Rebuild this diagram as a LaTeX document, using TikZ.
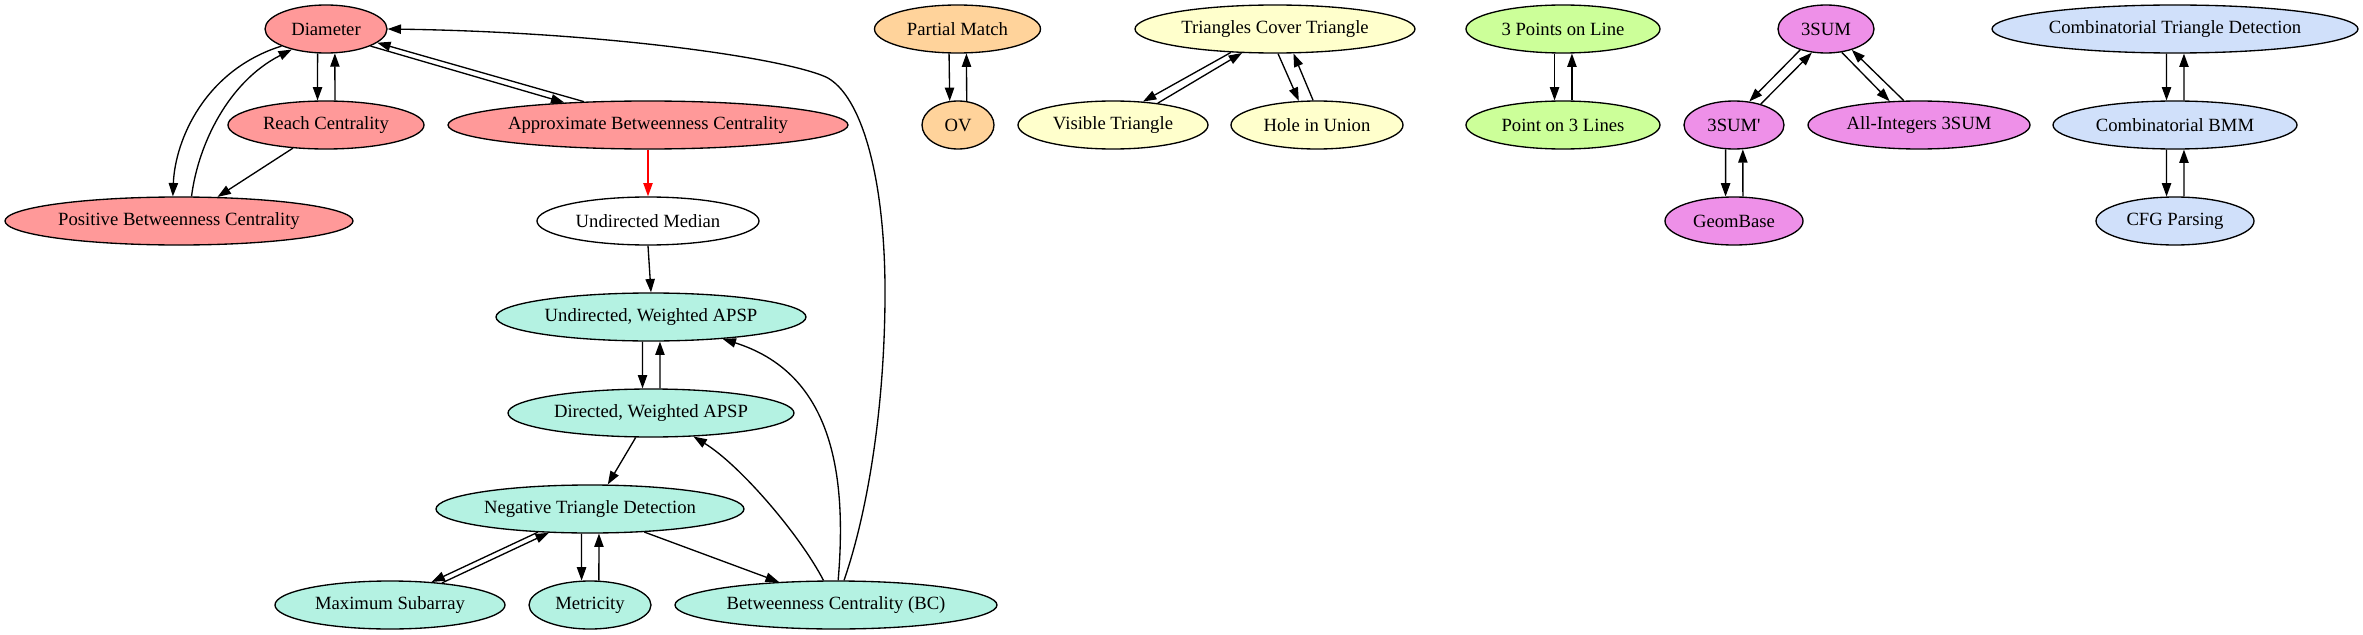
\documentclass[tikz,border=0pt]{standalone}
\usepackage{fontspec}
\setmainfont{Liberation Serif}
\usetikzlibrary{shapes.geometric,arrows.meta}
\definecolor{cpink}{RGB}{255,153,153}
\definecolor{corange}{RGB}{255,211,155}
\definecolor{cyellow}{RGB}{255,255,204}
\definecolor{cgreen}{RGB}{204,255,153}
\definecolor{cviolet}{RGB}{238,144,232}
\definecolor{cblue}{RGB}{208,224,250}
\definecolor{ccyan}{RGB}{180,242,226}
\newcommand\gvlabel[1]{\makebox[0pt][c]{#1}}
\newcommand\gvpair[2]{\draw[ed] (#1.-109.5) -- (#2.109.5); \draw[ed] (#2.70.5) -- (#1.-70.5);}
\tikzset{
  gv/.style={ellipse, draw=black, line width=1pt, inner sep=0pt, minimum height=36pt,
    font=\fontsize{14pt}{16pt}\selectfont},
  ed/.style={draw=black, line width=1pt, -{Triangle[length=10pt,width=7pt]}},
}
\begin{document}
\begin{tikzpicture}[x=0.75pt,y=-0.75pt]
\useasboundingbox (0,0) rectangle (2363,635);
% red cluster
\node[gv, fill=cpink, minimum width=91.5pt] (diam) at (326,29) {\gvlabel{Diameter}};
\node[gv, fill=cpink, minimum width=147pt] (reach) at (326,125) {\gvlabel{Reach Centrality}};
\node[gv, fill=cpink, minimum width=261pt] (pbc) at (179,221) {\gvlabel{Positive Betweenness Centrality}};
\node[gv, fill=cpink, minimum width=300pt] (abc) at (648,125) {\gvlabel{Approximate Betweenness Centrality}};
\node[gv, fill=white, minimum width=166.5pt] (um) at (648,221) {\gvlabel{Undirected Median}};
% cyan cluster
\node[gv, fill=ccyan, minimum width=232.5pt] (uwa) at (651,317) {\gvlabel{Undirected, Weighted APSP}};
\node[gv, fill=ccyan, minimum width=214.5pt] (dwa) at (651,413) {\gvlabel{Directed, Weighted APSP}};
\node[gv, fill=ccyan, minimum width=231pt] (ntd) at (590,509) {\gvlabel{Negative Triangle Detection}};
\node[gv, fill=ccyan, minimum width=172.5pt] (ms) at (390,605) {\gvlabel{Maximum Subarray}};
\node[gv, fill=ccyan, minimum width=91.5pt] (met) at (590,605) {\gvlabel{Metricity}};
\node[gv, fill=ccyan, minimum width=241.5pt] (bc) at (836,605) {\gvlabel{Betweenness Centrality (BC)}};
% orange
\node[gv, fill=corange, minimum width=124.5pt] (pm) at (957.5,29) {\gvlabel{Partial Match}};
\node[gv, fill=corange, minimum width=54pt] (ov) at (958,125) {\gvlabel{OV}};
% yellow
\node[gv, fill=cyellow, minimum width=210pt] (tct) at (1275,29) {\gvlabel{Triangles Cover Triangle}};
\node[gv, fill=cyellow, minimum width=142.5pt] (vt) at (1113,125) {\gvlabel{Visible Triangle}};
\node[gv, fill=cyellow, minimum width=129pt] (hiu) at (1317,125) {\gvlabel{Hole in Union}};
% green
\node[gv, fill=cgreen, minimum width=145.5pt] (tpl) at (1563,29) {\gvlabel{3 Points on Line}};
\node[gv, fill=cgreen, minimum width=145.5pt] (ptl) at (1563,125) {\gvlabel{Point on 3 Lines}};
% violet
\node[gv, fill=cviolet, minimum width=72pt] (sum) at (1826,29) {\gvlabel{3SUM}};
\node[gv, fill=cviolet, minimum width=75pt] (sump) at (1734,125) {\gvlabel{3SUM\textquotesingle}};
\node[gv, fill=cviolet, minimum width=166.5pt] (ais) at (1919,125) {\gvlabel{All-Integers 3SUM}};
\node[gv, fill=cviolet, minimum width=103.5pt] (gb) at (1734,221) {\gvlabel{GeomBase}};
% blue
\node[gv, fill=cblue, minimum width=274.5pt] (ctd) at (2175,29) {\gvlabel{Combinatorial Triangle Detection}};
\node[gv, fill=cblue, minimum width=183pt] (cbmm) at (2175,125) {\gvlabel{Combinatorial BMM}};
\node[gv, fill=cblue, minimum width=118.5pt] (cfg) at (2175,221) {\gvlabel{CFG Parsing}};

% edges: red cluster
\gvpair{diam}{reach}
\draw[ed] (diam.201) .. controls (205,70) and (175,140) .. (pbc.104);
\draw[ed] (pbc.63.4) .. controls (198,145) and (228,82) .. (diam.211.7);
\draw[ed] (reach.215.2) -- (pbc.32.3);
\draw[ed] (diam.-21) -- (abc.165.4);
\draw[ed] (abc.160) -- (diam.-15.5);
\draw[ed, draw=red] (abc.south) -- (um.north);
\draw[ed] (um.south) -- (uwa.north);
% cyan cluster
\gvpair{uwa}{dwa}
\draw[ed] (dwa.-122) -- (ntd.54.7);
\draw[ed] (ntd.204) -- (ms.29.3);
\draw[ed] (ms.23.9) -- (ntd.210.3);
\gvpair{ntd}{met}
\draw[ed] (ntd.-23.2) -- (bc.158.7);
\draw[ed] (bc.117.5) .. controls (800,535) and (740,465) .. (dwa.-29.7);
\draw[ed] (bc.85.4) .. controls (848,465) and (828,372) .. (uwa.-17);
\draw[ed] (bc.72) .. controls (865,520) and (884,420) .. (885,300)
  .. controls (886,180) and (862,95) .. (826,77)
  .. controls (780,57) and (600,32) .. (diam.east);
% orange
\gvpair{pm}{ov}
% yellow
\draw[ed] (tct.208.1) -- (vt.38);
\draw[ed] (vt.26.6) -- (tct.216.9);
\draw[ed] (tct.-83) -- (hiu.127.2);
\draw[ed] (hiu.99.5) -- (tct.-53.1);
% green
\gvpair{tpl}{ptl}
% violet
\draw[ed] (sum.219.4) -- (sump.57.4);
\draw[ed] (sump.38.2) -- (sum.239.7);
\draw[ed] (sum.-56.3) -- (ais.141.1);
\draw[ed] (ais.122) -- (sum.-39.4);
\gvpair{sump}{gb}
% blue
\gvpair{ctd}{cbmm}
\gvpair{cbmm}{cfg}
\end{tikzpicture}
\end{document}
